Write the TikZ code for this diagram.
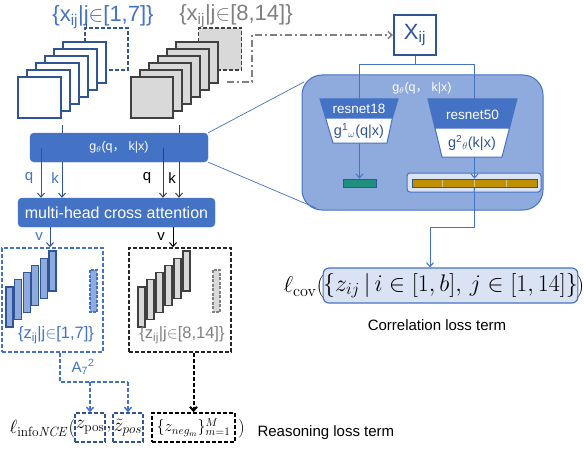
\documentclass[tikz,border=0pt]{standalone}
\usepackage{fix-cm}
\usepackage[no-math]{fontspec}
\setmainfont{Liberation Sans}
\newfontfamily\cjk{Noto Sans CJK SC}
\usetikzlibrary{arrows.meta,calc}
\definecolor{bmain}{HTML}{4472C4}
\definecolor{bdark}{HTML}{2F5597}
\definecolor{blight}{HTML}{8FAADC}
\definecolor{bpale}{HTML}{DAE3F3}
\definecolor{gtxt}{HTML}{808080}
\definecolor{gdark}{HTML}{404040}
\definecolor{gfill}{HTML}{D9D9D9}
\definecolor{tealbar}{HTML}{1F9080}
\definecolor{goldbar}{HTML}{BF9000}
\newcommand\fsz[1]{\fontsize{#1}{#1}\selectfont}
\begin{document}
\begin{tikzpicture}[x=1pt,y=-1pt,
  arr/.style={-{Straight Barb[length=4pt,width=7pt]}},
  gbox/.style={fill=bmain,draw=bmain,rounded corners=4pt,text=white},
  dbox/.style={dashed,line width=1.5pt,dash pattern=on 4pt off 2pt},
  mathbox/.style={dbox,inner sep=0pt,minimum width=30pt,minimum height=29pt,font=\fsz{19}},
  bbar/.style={bdark,fill=blight,line width=1.2pt},
  gbar/.style={gdark,fill=gfill,line width=1.2pt}]
\useasboundingbox (0,0) rectangle (584,452);

% ---- top labels
\node[text=bmain,font=\fsz{22},inner sep=0pt] (lab1) at (103,17) {\{x\textsubscript{ij}|j$\in$[1,7]\}};
\node[text=gtxt,font=\fsz{22},inner sep=0pt] (lab2) at (236,16) {\{x\textsubscript{ij}|j$\in$[8,14]\}};

% ---- dashed squares (behind stacks)
\node[draw=bdark,dbox,fill=white,minimum width=43pt,minimum height=42pt] (bd) at (106.5,49) {};
\node[draw=gdark,dbox,fill=gfill,minimum width=43pt,minimum height=42pt] (gd) at (220,49) {};
\draw[bdark,line width=1pt] ([xshift=2pt]bd.north west) -- ([xshift=2pt,yshift=3pt]bd.north west);

% ---- stacks
\foreach \i in {5,4,...,0}
  \draw[bdark,line width=1.5pt,fill=white] ({18+9*\i},{77-7*\i}) rectangle ++(43,41);
\foreach \i in {5,4,...,0}
  \draw[gdark,line width=1.5pt,fill=gfill] ({131+9*\i},{77-7*\i}) rectangle ++(42,41);

% ---- X_ij and dash-dot arrow
\node[draw=bdark,line width=1.8pt,fill=white,minimum width=42pt,minimum height=40pt,text=bdark,font=\fsz{22}] (X) at (415,35) {X\textsubscript{ij}};
\coordinate (dd0) at (227,82);
\coordinate (dd1) at (252,35);
\draw[gtxt,line width=1.5pt,dash pattern=on 7pt off 3pt on 2pt off 3pt,arr] (dd0) -| (dd1) -- (X.west);

% ---- left network boxes
\node[gbox,font=\fsz{12.5},minimum width=178pt,minimum height=29pt] (gt) at (119,147.5) {g\textsubscript{$\theta$}(q{\cjk ，} k|x)};
\node[gbox,font=\fsz{16},minimum width=197pt,minimum height=29pt] (mh) at (116.5,212.5) {multi-head cross attention};
\coordinate (bs) at (62,125);
\coordinate (gs) at (179,125);
\draw[bdark,line width=1pt] (bs) -- (bs |- gt.north);
\draw[gdark,line width=1pt] (gs) -- (gs |- gt.north);
\draw[bdark,line width=1pt,arr] ([xshift=-78pt]gt.center) -- ([xshift=-78pt]gt.center |- mh.north);
\draw[bdark,line width=1pt,arr] ([xshift=-57pt]gt.south) -- ([xshift=-57pt]gt.south |- mh.north);
\draw[gdark,line width=1pt,arr] ([xshift=44pt]gt.center) -- ([xshift=44pt]gt.center |- mh.north);
\draw[gdark,line width=1pt,arr] ([xshift=60pt]gt.south) -- ([xshift=60pt]gt.south |- mh.north);
\node[text=bmain,font=\fsz{15}] (lq1) at (29,178) {q};
\node[text=bmain,font=\fsz{15}] (lk1) at (55,178) {k};
\node[font=\fsz{15}] (lq2) at (147,178) {q};
\node[font=\fsz{15}] (lk2) at (172,178) {k};

% ---- z boxes
\node[draw=bmain,dbox,minimum width=101pt,minimum height=104pt] (zb) at (52.5,300) {};
\node[draw=black!85,dbox,minimum width=102pt,minimum height=104pt] (zg) at (180,300) {};
\draw[bdark,line width=1pt,arr] ([xshift=-66.5pt]mh.south) -- ([xshift=-66.5pt]mh.south |- zb.north);
\draw[black,line width=1pt,arr] ([xshift=56.5pt]mh.south) -- ([xshift=56.5pt]mh.south |- zg.north);
\node[text=bmain,font=\fsz{15}] (lv1) at (39,237) {v};
\node[font=\fsz{15}] (lv2) at (161,237) {v};
\foreach \i in {0,...,5}
  \draw[bbar] ({6+8.6*\i},{287-7.2*\i}) rectangle ++(7,40);
\draw[bmain,fill=blight,line width=1.2pt,dashed,dash pattern=on 3pt off 1.5pt] (90,270) rectangle (97,312);
\foreach \i in {0,...,5}
  \draw[gbar] ({138+9*\i},{287-7.2*\i}) rectangle ++(7,40);
\draw[gtxt,fill=gfill,line width=1.2pt,dashed,dash pattern=on 3pt off 1.5pt] (213,270) rectangle (220,312);
\node[text=bmain,font=\fsz{16.5}] (zl1) at (56,335) {\{z\textsubscript{ij}|j$\in$[1,7]\}};
\node[text=gtxt,font=\fsz{16.5}] (zl2) at (182,335) {\{z\textsubscript{ij}|j$\in$[8,14]\}};

% ---- reasoning loss
\node[font=\fsz{19},anchor=east,inner sep=0.5pt] (linfo) at (76,429) {$\ell_{\mathrm{info}\mathit{NCE}}($};
\node[draw=bdark,mathbox] (zp) at (90,427.5) {$z_{\mathrm{pos}}$};
\node[font=\fsz{19},inner sep=0.5pt] (c1m) at (109,429) {$,$};
\node[draw=bdark,mathbox] (zt) at (128,427.5) {$\tilde z_{pos}$};
\node[draw=black,mathbox,minimum width=83pt,font=\fsz{16}] (zn) at (193.5,427.5) {$\{z_{neg_m}\}_{m=1}^{M}$};
\node[font=\fsz{19},anchor=west,inner sep=0.5pt] (rp) at (237.5,429) {$)$};
\node[font=\fsz{15},anchor=west] (rl) at (254,433) {Reasoning loss term};

\coordinate (a1) at (128,382);
\draw[bmain,line width=1.5pt,dash pattern=on 4pt off 2pt] ([xshift=7.5pt]zb.south) |- (a1);
\draw[bmain,line width=1.5pt,dash pattern=on 4pt off 2pt,arr] (a1) -- (zt.north);
\draw[bmain,line width=1.5pt,dash pattern=on 4pt off 2pt,arr] (zp.north |- a1) -- (zp.north);
\node[text=bmain,font=\fsz{15}] (al) at (83,367) {A\textsubscript{7}\textsuperscript{2}};
\draw[black,line width=2pt,dash pattern=on 4pt off 2pt,arr] (zn.north |- zg.south) -- (zn.north);

% ---- right panel
\node[draw=bmain,fill=blight,rounded corners=20pt,minimum width=241pt,minimum height=135pt,line width=1pt] (big) at (422.5,142.5) {};
\coordinate (c1) at (304,82);
\coordinate (c2) at (316,208);
\draw[bmain,line width=0.7pt] (gt.north east) -- (c1);
\draw[bmain,line width=0.7pt] (gt.south east) -- (c2);
\node[text=white,font=\fsz{12.5}] (bl) at (422,88) {g\textsubscript{$\theta$}(q{\cjk ，} k|x)};

\node[draw=bdark,fill=tealbar,minimum width=33pt,minimum height=8pt,inner sep=0pt,line width=0.8pt] (teal) at (359.5,183) {};
\node[draw=bmain,fill=bpale,rounded corners=3pt,minimum width=134pt,minimum height=19pt,line width=1pt] (goldc) at (474,182.5) {};
\node[draw=bdark,fill=goldbar,minimum width=125pt,minimum height=8pt,inner sep=0pt,line width=0.8pt] (gold) at (474.5,183) {};
\foreach \x in {442,474,506} \draw[goldbar!50!white,line width=0.6pt] (\x,179.5) -- (\x,186.5);

\coordinate (sp) at (415,65);
\draw[bmain,line width=1pt] (X.south) -- (sp);
\draw[bmain,line width=1pt,arr] (sp) -| (teal.north);
\draw[bmain,line width=1pt,arr] (sp) -| (gold.north);

% trapezoids
\draw[bmain,fill=bmain,line width=1pt] (320,99) -- (398,99) -- (392.4,118) -- (325.6,118) -- cycle;
\draw[bmain,fill=white,line width=1pt] (325.6,118) -- (392.4,118) -- (387,143) -- (333,143) -- cycle;
\draw[bmain,fill=bmain,line width=1pt] (428,99) -- (517,99) -- (509.5,128) -- (435,128) -- cycle;
\draw[bmain,fill=white,line width=1pt] (435,128) -- (509.5,128) -- (502,157) -- (442,157) -- cycle;
\node[text=white,font=\fsz{13.5}] (r18) at (359,108.5) {resnet18};
\node[text=bdark,font=\fsz{14.5}] (g1) at (359,131) {g\textsuperscript{1}\textsubscript{$\omega$}(q|x)};
\node[text=white,font=\fsz{13.5}] (r50) at (472.5,115) {resnet50};
\node[text=bdark,font=\fsz{14.5}] (g2) at (472,143) {g\textsuperscript{2}\textsubscript{$\theta$}(k|x)};

% ---- correlation loss
\node[draw=bmain,fill=bpale,rounded corners=6pt,line width=1.2pt,minimum width=249pt,minimum height=35pt,inner sep=0pt,font=\fsz{24}] (zset) at (450.5,285.5) {$\{z_{ij}\,|\,i\in[1,b],\,j\in[1,14]\}$};
\node[font=\fsz{23},anchor=east,inner sep=0pt] (lc) at (325,287) {$\ell_{\mathrm{cov}}($};
\node[font=\fsz{23},anchor=west,inner sep=0pt] (rc) at (576,287) {$)$};
\node[font=\fsz{15}] (cl) at (437,325) {Correlation loss term};
\coordinate (t1) at (430,227);
\draw[bmain,line width=1pt] (gold.south) -- (goldc.south);
\draw[bmain,line width=1pt,arr] (goldc.south) |- (t1) -- (t1 |- zset.north);
\end{tikzpicture}
\end{document}
